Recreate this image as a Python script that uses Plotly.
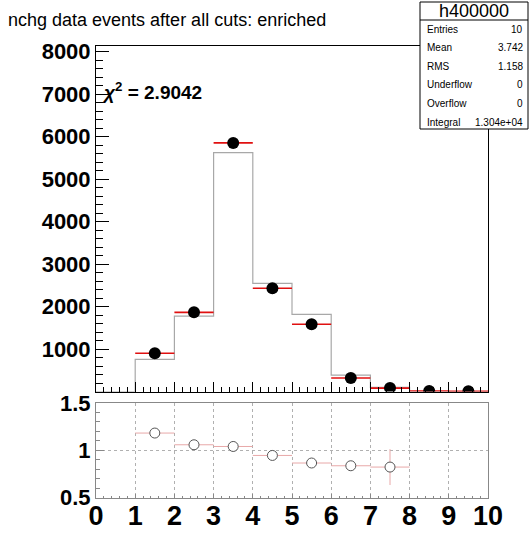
import plotly.graph_objects as go

# ---- data ----
bin_edges = [0, 1, 2, 3, 4, 5, 6, 7, 8, 9, 10]
bin_centers = [0.5, 1.5, 2.5, 3.5, 4.5, 5.5, 6.5, 7.5, 8.5, 9.5]
mc_counts = [0, 757, 1776, 5619, 2546, 1816, 385, 97, 0, 0]
data_counts = [None, 900, 1863, 5850, 2428, 1581, 318, 80, 12, 6]
ratio_vals = [None, 1.182, 1.058, 1.04, 0.945, 0.865, 0.836, 0.822, None, None]
ratio_errs = [0, 0.02, 0.01, 0.005, 0.01, 0.012, 0.03, 0.19, 0, 0]
main_yticks = [1000, 2000, 3000, 4000, 5000, 6000, 7000, 8000]
ratio_yticks = [0.5, 1, 1.5]
ratio_ytext = ["0.5", "1", "1.5"]
x_ticks = [0, 1, 2, 3, 4, 5, 6, 7, 8, 9, 10]

title_text = "nchg data events after all cuts: enriched"
chi2_text = "<i>χ</i><sup>2</sup> = 2.9042"
stats_name = "h400000"
stats_labels = ["Entries", "Mean", "RMS", "Underflow", "Overflow", "Integral"]
stats_values = ["10", "3.742", "1.158", "0", "0", "1.304e+04"]

W, H = 530, 534
def px(x):
    return x / W
def py(y):
    return 1 - y / H

FONT = "Liberation Sans, Arial, sans-serif"

fig = go.Figure()

# MC histogram as step line
step_y = mc_counts + [mc_counts[-1]]
fig.add_trace(go.Scatter(x=bin_edges, y=step_y, mode="lines", line_shape="hv",
                         line=dict(color="#a8a8a8", width=1.2),
                         xaxis="x", yaxis="y", showlegend=False, hoverinfo="skip"))

# data points with bin-width red bars
fig.add_trace(go.Scatter(x=bin_centers, y=data_counts, mode="markers",
                         marker=dict(color="black", size=12),
                         error_x=dict(type="constant", value=0.5, color="#e01010",
                                      thickness=1.6, width=0),
                         xaxis="x", yaxis="y", showlegend=False))

# ratio points
fig.add_trace(go.Scatter(x=bin_centers, y=ratio_vals, mode="markers",
                         marker=dict(color="white", size=10, symbol="circle",
                                     line=dict(color="#555555", width=1)),
                         error_x=dict(type="constant", value=0.5, color="#e8a8a8",
                                      thickness=1, width=0),
                         error_y=dict(type="data", array=ratio_errs, color="#e8a8a8",
                                      thickness=1, width=0),
                         xaxis="x2", yaxis="y2", showlegend=False))

main_dom_x = [px(96), px(488)]

fig.update_layout(
    width=W, height=H,
    margin=dict(l=0, r=0, t=0, b=0, autoexpand=False),
    paper_bgcolor="white", plot_bgcolor="white",
    font=dict(family=FONT, color="black"),
    xaxis=dict(domain=main_dom_x, range=[0, 10], anchor="y", automargin=False,
               showticklabels=False, showgrid=False, zeroline=False,
               showline=True, linecolor="black", linewidth=1, mirror=True,
               ticks="inside", tickvals=x_ticks, ticklen=10, tickcolor="black",
               minor=dict(dtick=0.2, tick0=0, ticks="inside", ticklen=5, tickcolor="black")),
    yaxis=dict(domain=[py(391.5), py(46)], range=[0, 8130], anchor="x", automargin=False,
               showgrid=False, zeroline=False,
               showline=True, linecolor="black", linewidth=1, mirror=True,
               ticks="inside", tickvals=main_yticks, ticklen=13, tickcolor="black",
               tickfont=dict(size=22, family=FONT, color="black", weight="bold"),
               minor=dict(dtick=200, tick0=0, ticks="inside", ticklen=7, tickcolor="black")),
    xaxis2=dict(domain=main_dom_x, range=[0, 10], anchor="y2", automargin=False,
                showgrid=True, gridcolor="#b0b0b0", griddash="dot", gridwidth=1,
                zeroline=False,
                showline=True, linecolor="#888888", linewidth=1, mirror=True,
                ticks="inside", tickvals=x_ticks, ticktext=[str(v) for v in x_ticks],
                ticklen=4, tickcolor="#888888", ticklabelstandoff=-6,
                tickfont=dict(size=27, family=FONT, color="black", weight="bold"),
                minor=dict(dtick=0.2, tick0=0, ticks="inside", ticklen=2, tickcolor="#888888")),
    yaxis2=dict(domain=[py(497.5), py(403)], range=[0.5, 1.5], anchor="x2", automargin=False,
                showgrid=True, gridcolor="#b0b0b0", griddash="dot", gridwidth=1,
                zeroline=False,
                showline=True, linecolor="#888888", linewidth=1, mirror=True,
                ticks="inside", tickvals=ratio_yticks, ticktext=ratio_ytext,
                ticklen=8, tickcolor="#888888",
                tickfont=dict(size=22, family=FONT, color="black", weight="bold"),
                minor=dict(dtick=0.1, tick0=0, ticks="inside", ticklen=4, tickcolor="#888888")),
)

annotations = [
    dict(x=px(6), y=py(20), xref="paper", yref="paper", xanchor="left", yanchor="middle",
         text=title_text, showarrow=False, font=dict(size=18, family=FONT, color="black")),
    dict(x=px(100), y=py(91), xref="paper", yref="paper", xanchor="left", yanchor="middle",
         text="<b>" + chi2_text + "</b>", showarrow=False,
         font=dict(size=19, family=FONT, color="black")),
    dict(x=px(474), y=py(11), xref="paper", yref="paper", xanchor="center", yanchor="middle",
         text=stats_name, showarrow=False, font=dict(size=18, family=FONT, color="black")),
]
row_y0, row_dy = 29, 18.6
for i, (lab, val) in enumerate(zip(stats_labels, stats_values)):
    yy = row_y0 + i * row_dy
    annotations.append(dict(x=px(425), y=py(yy), xref="paper", yref="paper",
                            xanchor="left", yanchor="middle", text=lab, showarrow=False,
                            font=dict(size=10, family=FONT, color="black")))
    annotations.append(dict(x=px(525), y=py(yy), xref="paper", yref="paper",
                            xanchor="right", yanchor="middle", text=val, showarrow=False,
                            font=dict(size=10, family=FONT, color="black")))
fig.update_layout(annotations=annotations)

fig.update_layout(shapes=[
    dict(type="rect", xref="paper", yref="paper", x0=px(420), x1=px(528),
         y0=py(129), y1=py(2), line=dict(color="black", width=1), fillcolor="white",
         layer="above"),
    dict(type="line", xref="paper", yref="paper", x0=px(420), x1=px(528),
         y0=py(20), y1=py(20), line=dict(color="black", width=1), layer="above"),
])

fig.write_html("out.html", config={"displayModeBar": False},
               post_script="document.body.style.margin='0';document.body.style.overflow='hidden';")
